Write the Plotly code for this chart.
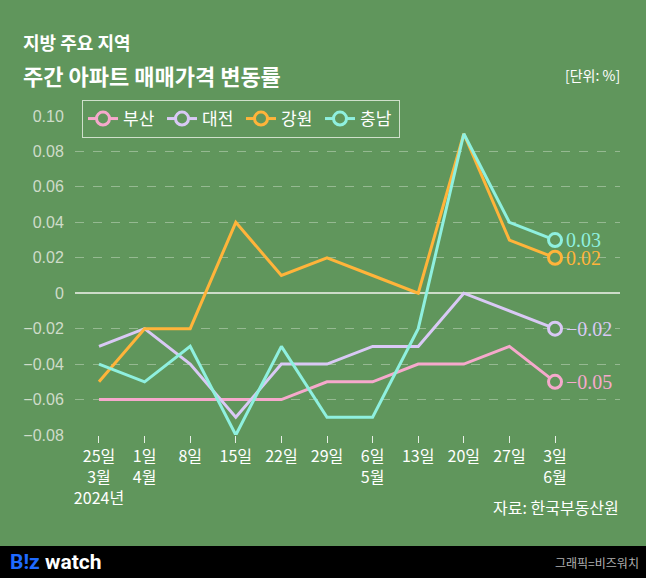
import plotly.graph_objects as go

# ---- data ----
dates = ["25일<br>3월<br>2024년", "1일<br>4월", "8일", "15일", "22일", "29일",
         "6일<br>5월", "13일", "20일", "27일", "3일<br>6월"]
busan    = [-0.06, -0.06, -0.06, -0.06, -0.06, -0.05, -0.05, -0.04, -0.04, -0.03, -0.05]
daejeon  = [-0.03, -0.02, -0.04, -0.07, -0.04, -0.04, -0.03, -0.03, 0.00, -0.01, -0.02]
gangwon  = [-0.05, -0.02, -0.02, 0.04, 0.01, 0.02, 0.01, 0.00, 0.09, 0.03, 0.02]
chungnam = [-0.04, -0.05, -0.03, -0.08, -0.03, -0.07, -0.07, -0.02, 0.09, 0.04, 0.03]
y_ticks = [-0.08, -0.06, -0.04, -0.02, 0, 0.02, 0.04, 0.06, 0.08, 0.10]
y_tick_text = ["−0.08", "−0.06", "−0.04", "−0.02", "0", "0.02", "0.04", "0.06", "0.08", "0.10"]

series = [
    ("부산", busan, "#f6a9cc"),
    ("대전", daejeon, "#d9c9f5"),
    ("강원", gangwon, "#ffb43a"),
    ("충남", chungnam, "#8ff0df"),
]

BG = "#60965c"
W_PX, H_PX = 646, 578
L, R, T, B = 75, 620, 116, 435
PW, PH = R - L, B - T

def px2x(p):
    return (p - L) / PW

def py2y(p):
    return (B - p) / PH

idx = list(range(len(dates)))
fig = go.Figure()

for name, vals, col in series:
    fig.add_trace(go.Scatter(x=idx, y=vals, mode="lines", line=dict(color=col, width=3),
                             showlegend=False, hoverinfo="skip"))
for name, vals, col in series:
    fig.add_trace(go.Scatter(x=[idx[-1]], y=[vals[-1]], mode="lines+markers", name=name,
                             line=dict(color=col, width=3),
                             marker=dict(size=13, color=BG, line=dict(color=col, width=3))))

def fmt(v):
    s = f"{abs(v):.2f}"
    return ("−" if v < 0 else "") + s

annotations = []
for name, vals, col in series:
    annotations.append(dict(x=idx[-1], y=vals[-1], xref="x", yref="y", text=fmt(vals[-1]),
                            showarrow=False, xanchor="left", yanchor="middle", xshift=9,
                            font=dict(family="Liberation Serif", size=20, color=col)))

annotations += [
    dict(x=px2x(21), y=py2y(42), xref="paper", yref="paper", text="<b>지방 주요 지역</b>",
         showarrow=False, xanchor="left", yanchor="middle",
         font=dict(family="Noto Sans CJK KR", size=18, color="white")),
    dict(x=px2x(21), y=py2y(75), xref="paper", yref="paper", text="<b>주간 아파트 매매가격 변동률</b>",
         showarrow=False, xanchor="left", yanchor="middle",
         font=dict(family="Noto Sans CJK KR", size=22, color="white")),
    dict(x=px2x(622), y=py2y(75), xref="paper", yref="paper", text="[단위: %]",
         showarrow=False, xanchor="right", yanchor="middle",
         font=dict(family="Noto Sans CJK KR", size=14, color="white")),
    dict(x=px2x(621), y=py2y(507), xref="paper", yref="paper", text="자료: 한국부동산원",
         showarrow=False, xanchor="right", yanchor="middle",
         font=dict(family="Noto Sans CJK KR", size=16, color="white")),
    dict(x=px2x(8), y=py2y(562), xref="paper", yref="paper",
         text="<b><span style='color:#1f6bff'>B!z</span> watch</b>",
         showarrow=False, xanchor="left", yanchor="middle",
         font=dict(family="Roboto", size=21, color="white")),
    dict(x=px2x(641), y=py2y(562), xref="paper", yref="paper", text="그래픽=비즈워치",
         showarrow=False, xanchor="right", yanchor="middle",
         font=dict(family="Noto Sans CJK KR", size=12, color="#b0b0b0")),
]

shapes = [
    dict(type="rect", xref="paper", yref="paper", x0=px2x(0), x1=px2x(646),
         y0=py2y(546), y1=py2y(578), fillcolor="black", line=dict(width=0), layer="above"),
]

fig.update_layout(
    width=W_PX, height=H_PX,
    margin=dict(l=L, r=W_PX - R, t=T, b=H_PX - B, pad=0),
    paper_bgcolor=BG, plot_bgcolor=BG,
    showlegend=True,
    legend=dict(orientation="h", x=px2x(82), y=py2y(100), xanchor="left", yanchor="top",
                bgcolor="rgba(0,0,0,0)", bordercolor="#cfe0cb", borderwidth=1,
                font=dict(family="Noto Sans CJK KR", size=17, color="white"),
                itemwidth=30, tracegroupgap=0, entrywidth=34, entrywidthmode="pixels"),
    annotations=annotations,
    shapes=shapes,
    xaxis=dict(range=[-0.526, 11.425], tickmode="array", tickvals=idx, ticktext=dates,
               showgrid=False, zeroline=False, showline=False,
               ticks="outside", ticklen=7, tickwidth=1, tickcolor="#e8efe6",
               tickfont=dict(family="Noto Sans CJK KR", size=16, color="white"), fixedrange=True),
    yaxis=dict(range=[-0.08, 0.10], tickmode="array", tickvals=y_ticks, ticktext=y_tick_text,
               showgrid=True, gridcolor="#95b991", griddash="dash", gridwidth=1,
               zeroline=True, zerolinecolor="#cddcc9", zerolinewidth=2, showline=False,
               ticks="outside", ticklen=7, tickcolor=BG,
               tickfont=dict(family="Liberation Sans", size=16, color="#cfdcca"), fixedrange=True),
)

fig.write_html("out.html", config={"displayModeBar": False},
               post_script="document.body.style.margin='0';document.body.style.overflow='hidden';")
